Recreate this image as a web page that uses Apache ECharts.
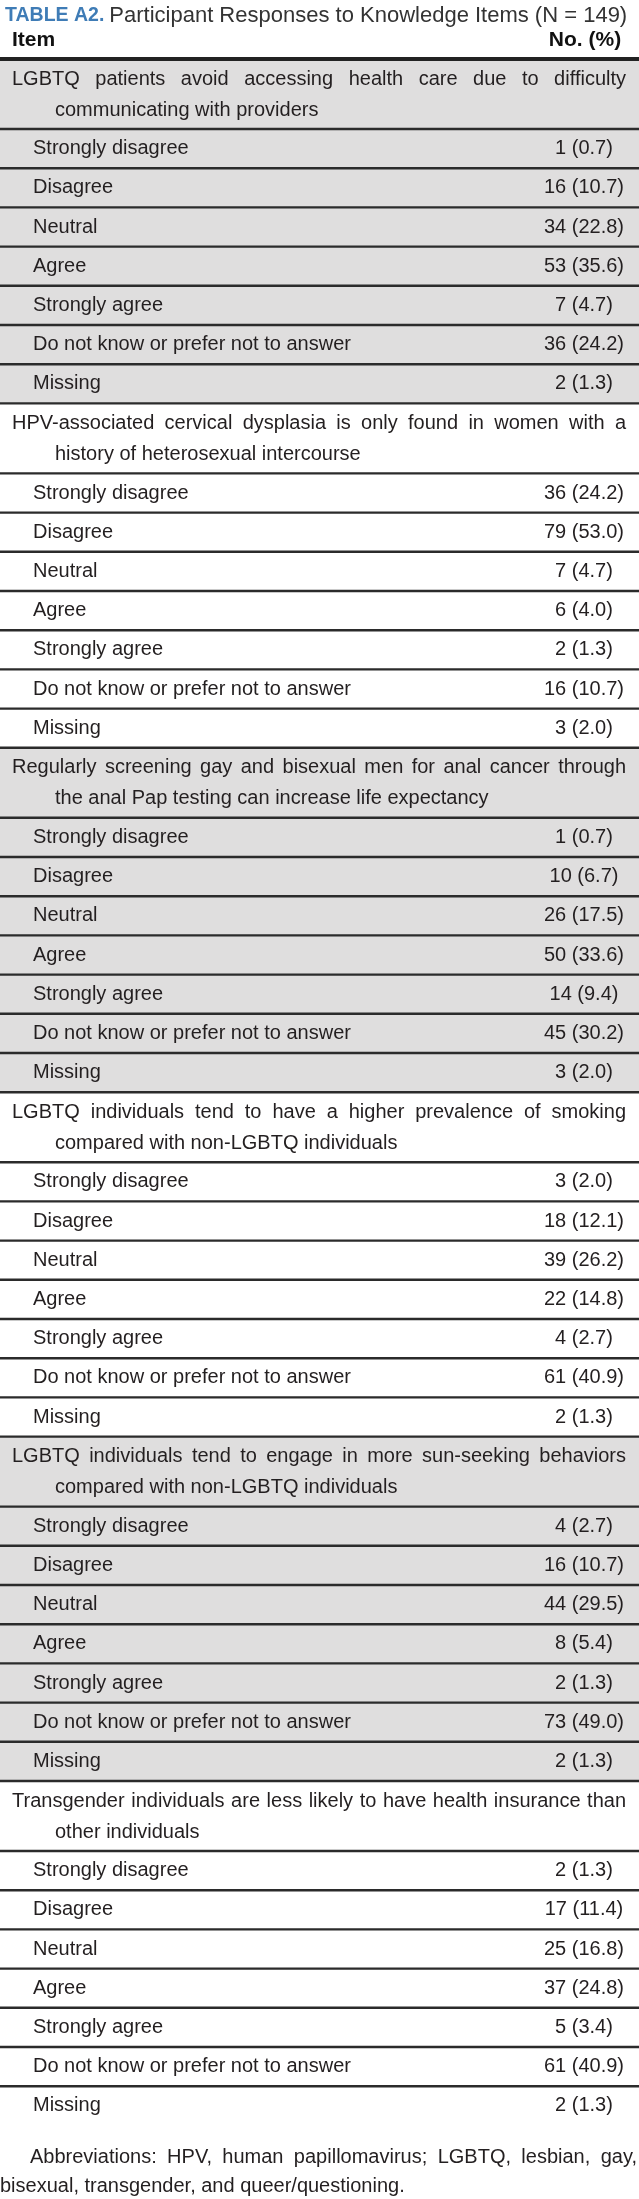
<!DOCTYPE html>
<html><head><meta charset="utf-8">
<script src="https://cdn.jsdelivr.net/npm/echarts@6/dist/echarts.min.js"></script>
<style>html,body{margin:0;padding:0;background:#fff}#c{width:639px;height:2199px}</style>
</head><body><div id="c"></div>
<script>
// ---------- data ----------
const titleLabel = 'TABLE A2.';
const titleText = 'Participant Responses to Knowledge Items (N = 149)';
const columnHeaders = ['Item', 'No. (%)'];
const items = [
  'LGBTQ patients avoid accessing health care due to difficulty\ncommunicating with providers',
  'HPV-associated cervical dysplasia is only found in women with a\nhistory of heterosexual intercourse',
  'Regularly screening gay and bisexual men for anal cancer through\nthe anal Pap testing can increase life expectancy',
  'LGBTQ individuals tend to have a higher prevalence of smoking\ncompared with non-LGBTQ individuals',
  'LGBTQ individuals tend to engage in more sun-seeking behaviors\ncompared with non-LGBTQ individuals',
  'Transgender individuals are less likely to have health insurance than\nother individuals'
];
const responses = ['Strongly disagree', 'Disagree', 'Neutral', 'Agree', 'Strongly agree',
  'Do not know or prefer not to answer', 'Missing'];
const counts1 = [1, 16, 34, 53, 7, 36, 2];
const pct1 = [0.7, 10.7, 22.8, 35.6, 4.7, 24.2, 1.3];
const counts2 = [36, 79, 7, 6, 2, 16, 3];
const pct2 = [24.2, 53.0, 4.7, 4.0, 1.3, 10.7, 2.0];
const counts3 = [1, 10, 26, 50, 14, 45, 3];
const pct3 = [0.7, 6.7, 17.5, 33.6, 9.4, 30.2, 2.0];
const counts4 = [3, 18, 39, 22, 4, 61, 2];
const pct4 = [2.0, 12.1, 26.2, 14.8, 2.7, 40.9, 1.3];
const counts5 = [4, 16, 44, 8, 2, 73, 2];
const pct5 = [2.7, 10.7, 29.5, 5.4, 1.3, 49.0, 1.3];
const counts6 = [2, 17, 25, 37, 5, 61, 2];
const pct6 = [1.3, 11.4, 16.8, 24.8, 3.4, 40.9, 1.3];
const footnote = ['Abbreviations: HPV, human papillomavirus; LGBTQ, lesbian, gay,',
  'bisexual, transgender, and queer/questioning.'];

const allCounts = [counts1, counts2, counts3, counts4, counts5, counts6];
const allPct = [pct1, pct2, pct3, pct4, pct5, pct6];

// ---------- layout ----------
const W = 639;
const TABLE_TOP = 59;
const HEAD_H = 70;
const ROW_H = 39.2;
const FONT = '"Liberation Sans", Arial, sans-serif';
const FS = 20;
const TXT = '#231f20';
const GREY = '#dfdede';
const LINE = '#2b2b2b';
const VAL_X = 584;
const JUST_RIGHT = 626;

const measureCtx = document.createElement('canvas').getContext('2d');
function textW(t, font) { measureCtx.font = font; return measureCtx.measureText(t).width; }

// justified line -> array of text elements (one per word)
function justify(text, x0, x1, yc, font, extra) {
  const words = text.split(' ');
  const ws = words.map(w => textW(w, font));
  const sum = ws.reduce((a, b) => a + b, 0);
  const gap = words.length > 1 ? (x1 - x0 - sum) / (words.length - 1) : 0;
  let x = x0;
  return words.map((w, i) => {
    const el = Object.assign({ type: 'text', x: x, y: yc,
      style: { text: w, font: font, fill: TXT, verticalAlign: 'middle', align: 'left' } }, extra || {});
    x += ws[i] + gap;
    return el;
  });
}

// rows: [yStart, yEnd, group, responseIndex, kind]  kind 0 = item row, 1 = response row
const rows = [];
let y = 0;
items.forEach((it, g) => {
  rows.push([y, y + HEAD_H, g, -1, 0]); y += HEAD_H;
  responses.forEach((r, k) => { rows.push([y, y + ROW_H, g, k, 1]); y += ROW_H; });
});
const TOTAL = y;

function renderItem(params, api) {
  const y0 = api.value(0), y1 = api.value(1), g = api.value(2), k = api.value(3), kind = api.value(4);
  const pa = api.coord([0, y0]), pb = api.coord([W, y1]);
  const top = pa[1], bot = pb[1], h = bot - top;
  const font = FS + 'px ' + FONT;
  let children = [{
    type: 'rect', shape: { x: 0, y: top, width: W, height: h },
    style: { fill: g % 2 === 0 ? GREY : '#ffffff' }, silent: true
  }];
  const isLast = params.dataIndex === rows.length - 1;
  if (!isLast) {
    children.push({ type: 'line', shape: { x1: 0, y1: bot, x2: W, y2: bot },
      style: { stroke: LINE, lineWidth: 2.4 }, z2: 5 });
  }
  if (kind === 0) {
    const lines = items[g].split('\n');
    children = children.concat(justify(lines[0], 12, JUST_RIGHT, top + 20, font, { z2: 6 }));
    children.push({ type: 'text', x: 55, y: top + 51,
      style: { text: lines[1], font: font, fill: TXT, verticalAlign: 'middle', align: 'left' }, z2: 6 });
  } else {
    const c = allCounts[g][k], p = allPct[g][k];
    children.push({ type: 'text', x: 33, y: top + h / 2,
      style: { text: responses[k], font: font, fill: TXT, verticalAlign: 'middle', align: 'left' }, z2: 6 });
    children.push({ type: 'text', x: VAL_X, y: top + h / 2,
      style: { text: c + ' (' + p.toFixed(1) + ')', font: font, fill: TXT, verticalAlign: 'middle', align: 'center' }, z2: 6 });
  }
  return { type: 'group', children };
}

const footFont = FS + 'px ' + FONT;
const graphics = [
  { type: 'text', x: 12, y: 40, style: { text: columnHeaders[0], font: 'bold 21px ' + FONT, fill: '#111', verticalAlign: 'middle' } },
  { type: 'text', x: VAL_X + 1, y: 40, style: { text: columnHeaders[1], font: 'bold 21px ' + FONT, fill: '#111', align: 'center', verticalAlign: 'middle' } },
  { type: 'line', shape: { x1: 0, y1: TABLE_TOP, x2: W, y2: TABLE_TOP }, style: { stroke: '#222', lineWidth: 4 }, z: 10 },
  { type: 'text', x: 0, y: 2186, style: { text: footnote[1], font: footFont, fill: TXT, verticalAlign: 'middle' } }
].concat(justify(footnote[0], 30, 637, 2157, footFont));

const chart = echarts.init(document.getElementById('c'), null, { renderer: 'canvas' });
chart.setOption({
  animation: false,
  backgroundColor: '#ffffff',
  title: {
    left: 0, top: 0,
    text: '{a|' + titleLabel + '} {b|' + titleText + '}',
    textStyle: {
      rich: {
        a: { fontFamily: FONT, fontSize: 19.5, fontWeight: 'bold', color: '#3f7cb6' },
        b: { fontFamily: FONT, fontSize: 22, fontWeight: 'normal', color: '#333333' }
      }
    }
  },
  grid: { left: 0, right: 0, top: TABLE_TOP, height: TOTAL },
  xAxis: { type: 'value', min: 0, max: W, show: false },
  yAxis: { type: 'value', min: 0, max: TOTAL, inverse: true, show: false },
  graphic: graphics,
  series: [{
    type: 'custom',
    renderItem: renderItem,
    encode: { y: [0, 1] },
    data: rows,
    clip: false
  }]
});
</script>
</body></html>
